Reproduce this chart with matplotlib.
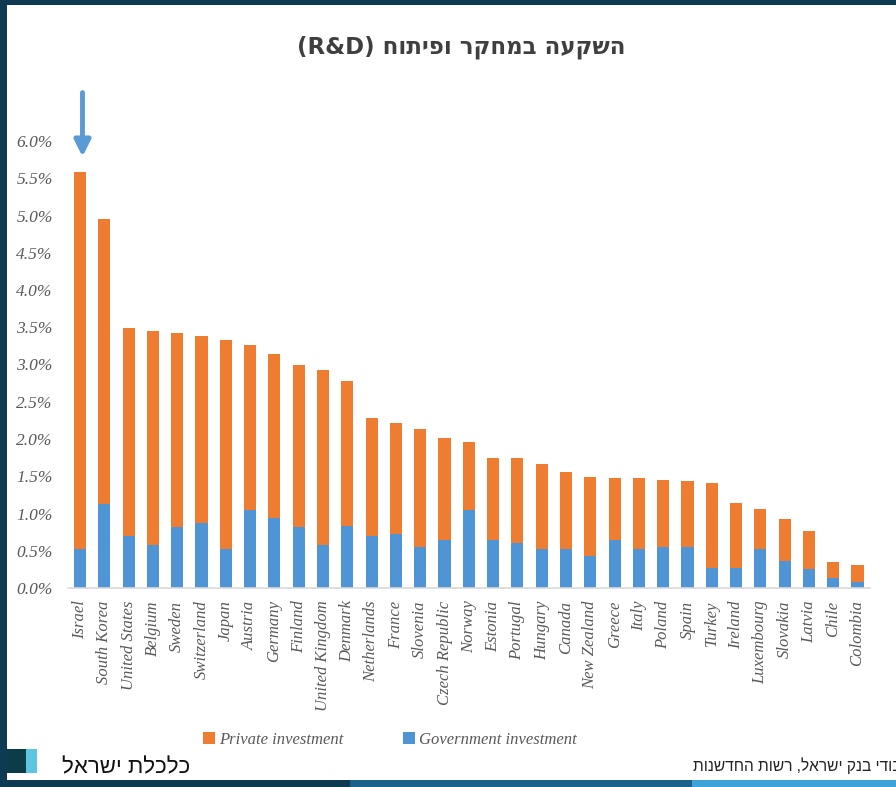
import matplotlib
matplotlib.use("Agg")
import matplotlib.pyplot as plt
from matplotlib.patches import Rectangle, Patch
from matplotlib.ticker import FuncFormatter

countries = ["Israel", "South Korea", "United States", "Belgium", "Sweden", "Switzerland",
             "Japan", "Austria", "Germany", "Finland", "United Kingdom", "Denmark",
             "Netherlands", "France", "Slovenia", "Czech Republic", "Norway", "Estonia",
             "Portugal", "Hungary", "Canada", "New Zealand", "Greece", "Italy", "Poland",
             "Spain", "Turkey", "Ireland", "Luxembourg", "Slovakia", "Latvia", "Chile",
             "Colombia"]
total = [5.58, 4.95, 3.49, 3.45, 3.42, 3.38, 3.33, 3.26, 3.14, 2.99, 2.92, 2.78,
         2.28, 2.22, 2.13, 2.01, 1.96, 1.75, 1.74, 1.66, 1.56, 1.49, 1.48, 1.48,
         1.45, 1.44, 1.41, 1.14, 1.06, 0.93, 0.76, 0.35, 0.31]
government = [0.52, 1.13, 0.70, 0.58, 0.82, 0.87, 0.52, 1.05, 0.94, 0.82, 0.58, 0.83,
              0.70, 0.73, 0.55, 0.65, 1.05, 0.65, 0.60, 0.53, 0.53, 0.43, 0.64, 0.52,
              0.55, 0.55, 0.27, 0.27, 0.52, 0.36, 0.26, 0.14, 0.085]
private = [t - g for t, g in zip(total, government)]
yticks = [0, 0.5, 1.0, 1.5, 2.0, 2.5, 3.0, 3.5, 4.0, 4.5, 5.0, 5.5, 6.0]

title = "השקעה במחקר ופיתוח (R&D)"
brand = "כלכלת ישראל"
source = "עיבודי בנק ישראל, רשות החדשנות"


def visual(s):
    # matplotlib has no bidi support: reverse Hebrew runs, keep Latin runs
    import re
    parts = re.split(r"(\([A-Za-z&]+\))", s)
    out = []
    for p in parts:
        if re.fullmatch(r"\([A-Za-z&]+\)", p or ""):
            out.append(p)
        else:
            out.append(p[::-1])
    return "".join(reversed(out))


W, H = 896, 787
fig = plt.figure(figsize=(W / 100, H / 100), dpi=100)
fig.patch.set_facecolor("#0e3a52")

def fx(px):
    return px / W

def fy(py):
    return 1 - py / H

# white slide area
fig.add_artist(Rectangle((fx(7), fy(780)), 1 - fx(7), fy(5) - fy(780),
                         transform=fig.transFigure, facecolor="white", edgecolor="none", zorder=0))
# bottom strip
fig.add_artist(Rectangle((fx(350), 0), fx(692) - fx(350), fy(780),
                         transform=fig.transFigure, facecolor="#1a628c", edgecolor="none", zorder=0))
fig.add_artist(Rectangle((fx(692), 0), 1 - fx(692), fy(780),
                         transform=fig.transFigure, facecolor="#3ea3d8", edgecolor="none", zorder=0))
# logo blocks
fig.add_artist(Rectangle((fx(7), fy(773)), fx(26) - fx(7), fy(749) - fy(773),
                         transform=fig.transFigure, facecolor="#0c3c48", edgecolor="none", zorder=1))
fig.add_artist(Rectangle((fx(26), fy(773)), fx(37) - fx(26), fy(749) - fy(773),
                         transform=fig.transFigure, facecolor="#5cc6df", edgecolor="none", zorder=1))

ax = fig.add_axes([fx(67.9), fy(588), fx(869.7) - fx(67.9), fy(141) - fy(588)])
ax.set_facecolor("none")

x = list(range(len(countries)))
orange = "#ee7d31"
blue = "#4f95d6"
ax.bar(x, government, width=0.5, color=blue, zorder=2)
ax.bar(x, private, width=0.5, bottom=government, color=orange, zorder=2)

ax.set_xlim(-0.5, len(countries) - 0.5)
ax.set_ylim(0, 6.0)
ax.set_yticks(yticks)
ax.yaxis.set_major_formatter(FuncFormatter(lambda v, p: f"{v:.1f}%"))
ax.set_xticks(x)
ax.set_xticklabels(countries, rotation=90, ha="center", va="top")

for lab in ax.get_yticklabels():
    lab.set_fontfamily("Liberation Serif")
    lab.set_fontstyle("italic")
    lab.set_fontsize(12.5)
    lab.set_color("#595959")
for lab in ax.get_xticklabels():
    lab.set_fontfamily("Liberation Serif")
    lab.set_fontstyle("italic")
    lab.set_fontsize(12)
    lab.set_color("#595959")

ax.tick_params(axis="y", length=0, pad=11)
ax.tick_params(axis="x", length=0, pad=9)
for s in ["top", "right", "left"]:
    ax.spines[s].set_visible(False)
ax.spines["bottom"].set_color("#d9d9d9")
ax.spines["bottom"].set_linewidth(1.2)

# arrow pointing at Israel
ax.annotate("", xy=(0.1, 5.79), xytext=(0.1, 6.65),
            arrowprops=dict(arrowstyle="-|>", lw=3.5, color="#5b9bd5", mutation_scale=24,
                            shrinkA=0, shrinkB=0),
            annotation_clip=False)

# legend
handles = [Patch(facecolor=orange, edgecolor="none", label="Private investment"),
           Patch(facecolor=blue, edgecolor="none", label="Government investment")]
leg = fig.legend(handles=handles, loc="center", bbox_to_anchor=(fx(390), fy(740)), ncol=2,
                 frameon=False, handlelength=0.7, handleheight=0.7, handletextpad=0.25,
                 columnspacing=3.6,
                 prop={"family": "Liberation Serif", "style": "italic", "size": 12})
for t in leg.get_texts():
    t.set_color("#595959")

# title
fig.text(fx(461), fy(47), visual(title), ha="center", va="center", fontsize=16.5,
         fontweight="bold", color="#3f3f3f", family=["DejaVu Sans"])

# brand text
fig.text(fx(62), fy(773), visual(brand), ha="left", va="baseline", fontsize=16,
         color="#111111", family=["Liberation Sans", "DejaVu Sans"])

# source text (clipped by the right edge)
fig.text(fx(693), fy(771), visual(source), ha="left", va="baseline", fontsize=11.2,
         color="#222222", family=["Liberation Sans", "DejaVu Sans"])

fig.savefig("out.png", dpi=100, facecolor=fig.get_facecolor())
